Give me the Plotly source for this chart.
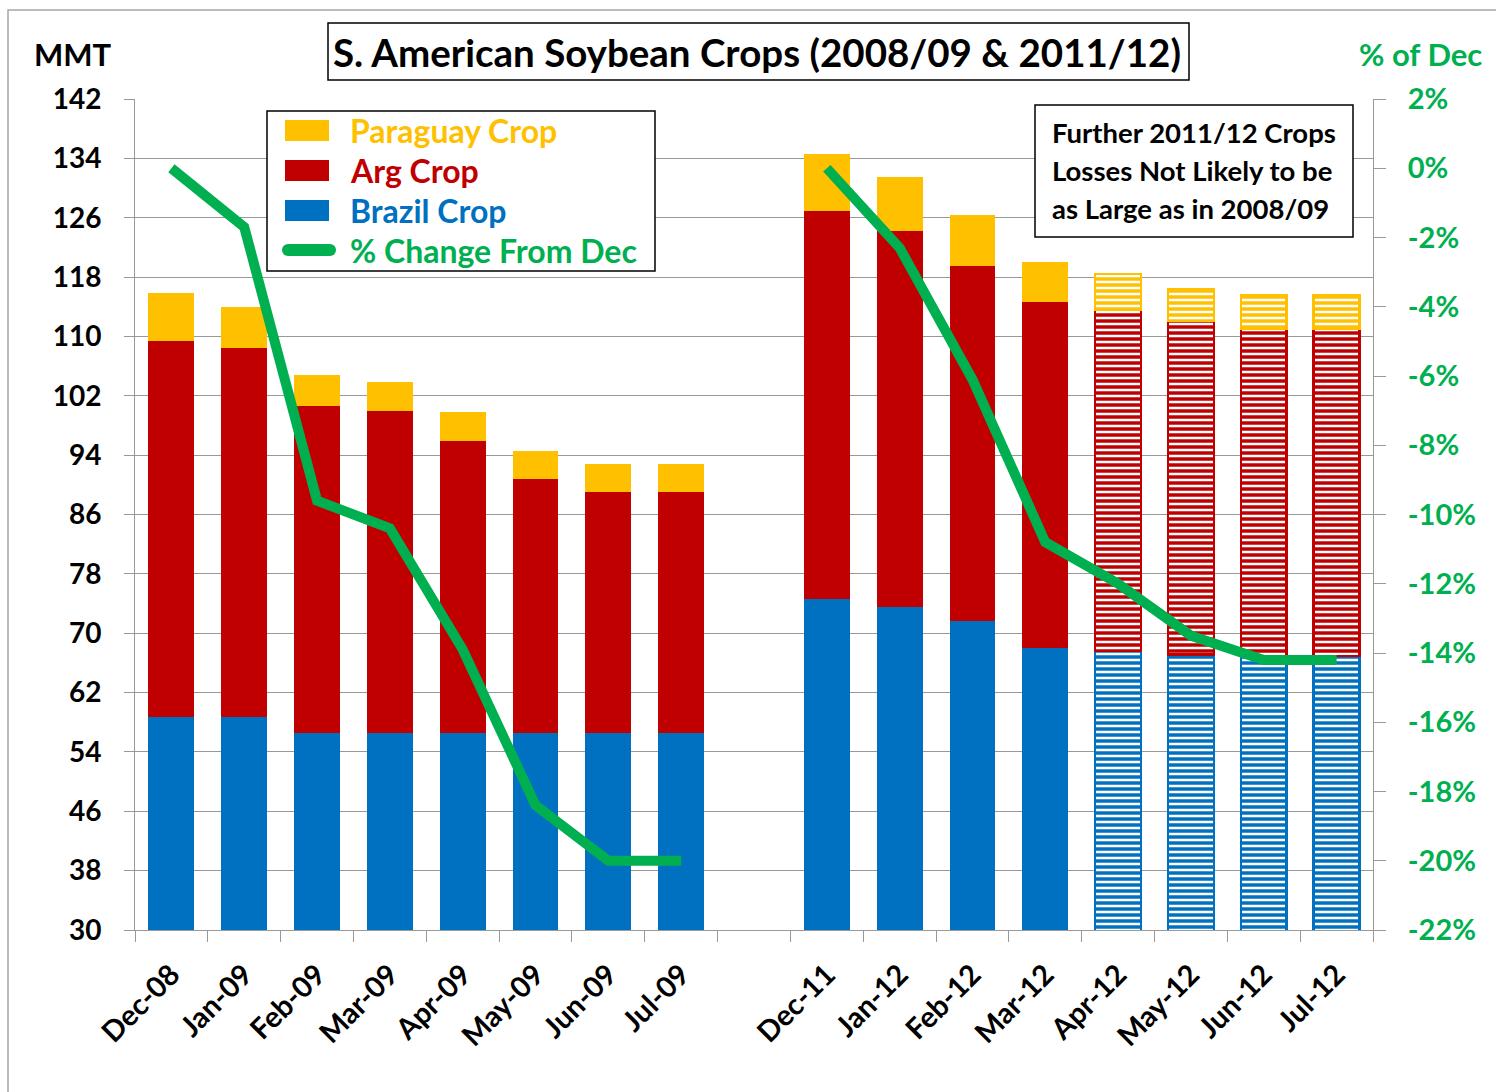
import plotly.graph_objects as go

# ---- data -------------------------------------------------------------
months = ["Dec-08", "Jan-09", "Feb-09", "Mar-09", "Apr-09", "May-09", "Jun-09", "Jul-09",
          " ",
          "Dec-11", "Jan-12", "Feb-12", "Mar-12", "Apr-12", "May-12", "Jun-12", "Jul-12"]

brazil = [58.7, 58.7, 56.6, 56.6, 56.6, 56.6, 56.6, 56.6, None,
          74.6, 73.6, 71.6, 68.0, 67.6, 67.1, 66.9, 66.9]
argentina = [50.7, 49.7, 44.0, 43.4, 39.3, 34.2, 32.4, 32.4, None,
             52.3, 50.6, 47.9, 46.6, 46.0, 45.0, 44.1, 44.1]
paraguay = [6.5, 5.6, 4.2, 3.9, 3.9, 3.8, 3.8, 3.8, None,
            7.7, 7.3, 6.9, 5.4, 4.8, 4.3, 4.5, 4.5]
pct_change = [0.0, -1.7, -9.6, -10.4, -13.9, -18.4, -20.0, -20.0, None,
              0.0, -2.3, -6.1, -10.8, -12.0, -13.5, -14.2, -14.2]
# months whose crop numbers are projections (drawn striped)
projected = [False] * 13 + [True] * 4

left_ticks = list(range(30, 143, 8))
right_ticks = list(range(-22, 3, 2))
right_labels = [f"{v}%" for v in right_ticks]

# ---- style ------------------------------------------------------------
GOLD, RED, BLUE, GREEN = "#FFC000", "#C00000", "#0070C0", "#00B050"
GRID = "#999999"
FONT = "Lato"

W, H = 1496, 1092
L, R, T, B = 135, 123, 99, 162
PW, PH = W - L - R, H - T - B


def px(x):
    return (x - L) / PW


def py(y):
    return (H - B - y) / PH


fig = go.Figure()

for name, vals, color in [("Brazil Crop", brazil, BLUE),
                          ("Arg Crop", argentina, RED),
                          ("Paraguay Crop", paraguay, GOLD)]:
    fig.add_trace(go.Bar(
        x=months, y=vals, name=name, showlegend=False,
        marker=dict(
            color=color,
            line=dict(color=color, width=[2.5 if p else 0 for p in projected]),
            pattern=dict(shape=["-" if p else "" for p in projected],
                         fgcolor="white", bgcolor=color,
                         size=6, solidity=0.42, fillmode="replace"),
        ),
    ))

fig.add_trace(go.Scatter(
    x=months, y=pct_change, yaxis="y2", mode="lines",
    name="% Change From Dec", showlegend=False, connectgaps=False,
    line=dict(color=GREEN, width=10),
))

shapes = []
annotations = []

# outer frame
shapes.append(dict(type="rect", xref="paper", yref="paper",
                   x0=px(8), x1=px(1530), y0=py(10), y1=py(1120),
                   line=dict(color="#A6A6A6", width=1.5), layer="below"))

# title box
shapes.append(dict(type="rect", xref="paper", yref="paper",
                   x0=px(328), x1=px(1189), y0=py(23), y1=py(80),
                   line=dict(color="black", width=1.5), fillcolor="white"))
annotations.append(dict(xref="paper", yref="paper", x=px(757), y=py(52),
                        text="S. American Soybean Crops (2008/09 & 2011/12)",
                        showarrow=False, xanchor="center", yanchor="middle",
                        font=dict(family=FONT, size=38.5, color="black", weight="bold")))

# axis captions
annotations.append(dict(xref="paper", yref="paper", x=px(73), y=py(54), text="MMT",
                        showarrow=False, xanchor="center", yanchor="middle",
                        font=dict(family=FONT, size=31, color="black", weight="bold")))
annotations.append(dict(xref="paper", yref="paper", x=px(1420), y=py(54), text="% of Dec",
                        showarrow=False, xanchor="center", yanchor="middle",
                        font=dict(family=FONT, size=31, color=GREEN, weight="bold")))

# legend box
shapes.append(dict(type="rect", xref="paper", yref="paper", layer="above",
                   x0=px(267), x1=px(655), y0=py(111), y1=py(271),
                   line=dict(color="black", width=1.5), fillcolor="white"))
legend_items = [("Paraguay Crop", GOLD, 130), ("Arg Crop", RED, 170), ("Brazil Crop", BLUE, 210)]
for label, color, yc in legend_items:
    shapes.append(dict(type="rect", xref="paper", yref="paper", layer="above",
                       x0=px(285), x1=px(329), y0=py(yc - 10), y1=py(yc + 11),
                       line=dict(width=0), fillcolor=color))
    annotations.append(dict(xref="paper", yref="paper", x=px(348), y=py(yc), text=label,
                            showarrow=False, xanchor="left", yanchor="middle",
                            font=dict(family=FONT, size=32, color=color, weight="bold")))
# legend line sample with rounded ends
shapes.append(dict(type="rect", xref="paper", yref="paper", layer="above",
                   x0=px(288), x1=px(330), y0=py(244), y1=py(256),
                   line=dict(width=0), fillcolor=GREEN))
for cx in (288, 330):
    shapes.append(dict(type="circle", xref="paper", yref="paper", layer="above",
                       x0=px(cx - 6), x1=px(cx + 6), y0=py(244), y1=py(256),
                       line=dict(width=0), fillcolor=GREEN))
annotations.append(dict(xref="paper", yref="paper", x=px(348), y=py(250),
                        text="% Change From Dec", showarrow=False,
                        xanchor="left", yanchor="middle",
                        font=dict(family=FONT, size=32, color=GREEN, weight="bold")))

# note box
shapes.append(dict(type="rect", xref="paper", yref="paper", layer="above",
                   x0=px(1035), x1=px(1353), y0=py(105), y1=py(237),
                   line=dict(color="black", width=1.5), fillcolor="white"))
for line_text, yc in [("Further 2011/12 Crops", 132),
                      ("Losses Not Likely to be", 170),
                      ("as Large as in 2008/09", 208)]:
    annotations.append(dict(xref="paper", yref="paper", x=px(1050), y=py(yc), text=line_text,
                            showarrow=False, xanchor="left", yanchor="middle",
                            font=dict(family=FONT, size=27.5, color="black", weight="bold")))

fig.update_layout(
    width=W, height=H,
    margin=dict(l=L, r=R, t=T, b=B, pad=0),
    paper_bgcolor="white", plot_bgcolor="white",
    barmode="stack", bargap=0.37,
    showlegend=False,
    font=dict(family=FONT, size=28, color="black", weight="bold"),
    xaxis=dict(
        type="category", categoryorder="array", categoryarray=months,
        range=[-0.5, len(months) - 0.5],
        tickson="boundaries", ticks="outside", ticklen=11, tickcolor=GRID,
        showline=True, linecolor=GRID, linewidth=1,
        showgrid=False, tickangle=-45, ticklabelstandoff=15,
        tickfont=dict(family=FONT, size=29, color="black", weight="bold"),
    ),
    yaxis=dict(
        range=[30, 142], tickvals=left_ticks,
        showgrid=True, gridcolor=GRID, gridwidth=1,
        ticks="outside", ticklen=10, tickcolor=GRID,
        showline=True, linecolor=GRID, linewidth=1,
        zeroline=False, ticklabelstandoff=17,
        tickfont=dict(family=FONT, size=28, color="black", weight="bold"),
    ),
    yaxis2=dict(
        overlaying="y", side="right",
        range=[-22, 2], tickvals=right_ticks, ticktext=right_labels,
        showgrid=False, zeroline=False,
        ticks="outside", ticklen=12, tickcolor=GRID,
        showline=True, linecolor=GRID, linewidth=1,
        ticklabelstandoff=16,
        tickfont=dict(family=FONT, size=29, color=GREEN, weight="bold"),
    ),
    shapes=shapes,
    annotations=annotations,
)

fig.write_html("out.html")
